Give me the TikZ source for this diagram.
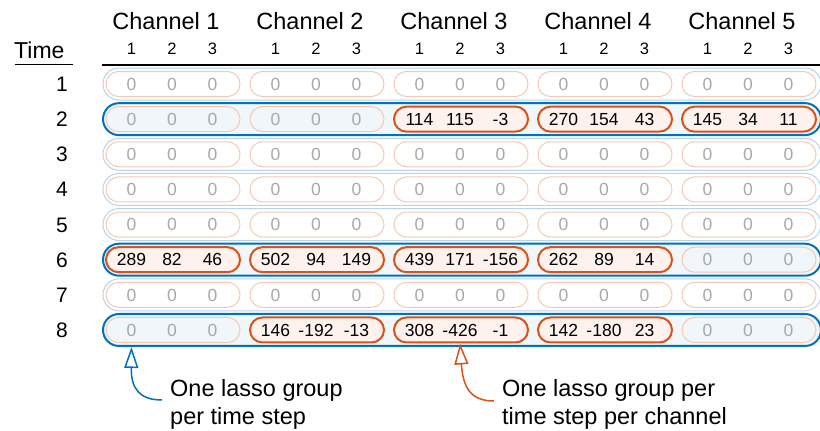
\documentclass[tikz,border=0pt]{standalone}
\usepackage{fontspec}
\setmainfont{Liberation Sans}
\usetikzlibrary{arrows.meta}

\definecolor{mblue}{HTML}{0072BD}
\definecolor{lblue}{HTML}{B5D3EC}
\definecolor{rowfill}{HTML}{F1F6FB}
\definecolor{morange}{HTML}{D95319}
\definecolor{lorange}{HTML}{F5C8B5}
\definecolor{chfill}{HTML}{FDF2EE}
\definecolor{zgray}{HTML}{A8A8A8}

% non-zero entries: row, channel, three values
\newcommand\cellvals[5]{\expandafter\def\csname cv-#1-#2\endcsname{#3,#4,#5}}
\cellvals{2}{3}{114}{115}{-3}
\cellvals{2}{4}{270}{154}{43}
\cellvals{2}{5}{145}{34}{11}
\cellvals{6}{1}{289}{82}{46}
\cellvals{6}{2}{502}{94}{149}
\cellvals{6}{3}{439}{171}{-156}
\cellvals{6}{4}{262}{89}{14}
\cellvals{8}{2}{146}{-192}{-13}
\cellvals{8}{3}{308}{-426}{-1}
\cellvals{8}{4}{142}{-180}{23}

\begin{document}
\begin{tikzpicture}[x=1pt,y=-1pt,
  rowbox/.style={draw=lblue, line width=1pt, rounded corners=16pt,
    minimum width=718pt, minimum height=32pt, inner sep=0pt},
  rowon/.style={rowbox, draw=mblue, line width=2pt, fill=rowfill},
  chbox/.style={draw=lorange, line width=1pt, rounded corners=12.5pt,
    minimum width=134pt, minimum height=25pt, inner sep=0pt},
  chon/.style={chbox, draw=morange, line width=2pt, fill=chfill},
  cell/.style={font=\fontsize{17.5}{20}\selectfont, text=zgray, inner sep=0pt,
    text height=12.5pt, text depth=0pt},
  cellon/.style={cell, text=black},
  rowlab/.style={font=\fontsize{21}{24}\selectfont, inner sep=0pt, anchor=east,
    text height=15pt, text depth=0pt},
  chlab/.style={font=\fontsize{23.5}{26}\selectfont, inner sep=0pt,
    text height=17pt, text depth=0pt},
  collab/.style={font=\fontsize{16.5}{19}\selectfont, inner sep=0pt,
    text height=12pt, text depth=0pt},
  note/.style={font=\fontsize{23.5}{28}\selectfont, inner sep=0pt, anchor=base west},
  pointer/.style={line width=1.5pt, -{Triangle[open, length=21pt, width=14pt]}}
]
\useasboundingbox (0,0) rectangle (820,431);

% header
\node[font=\fontsize{23}{26}\selectfont, inner sep=0pt, anchor=west,
  text height=16pt, text depth=0pt] (time) at (14,50) {Time};
\draw[line width=1.2pt] (15,64.5) -- (72.5,64.5);
\draw[line width=1.2pt] (102,65) -- (820,65);
\foreach \k in {1,...,5}{
  \node[chlab] (ch-\k) at ({166+144*(\k-1)},21.5) {Channel \k};
  \foreach \j in {1,2,3}
    \node[collab] (col-\k-\j) at ({131.5+144*(\k-1)+40.5*(\j-1)},48.5) {\j};
}

% one lasso group per time step
\foreach \r in {1,...,8}{
  \pgfmathsetmacro\yy{84+35.14*(\r-1)}
  \ifnum\r=2 \def\rst{rowon}\else\ifnum\r=6 \def\rst{rowon}\else
    \ifnum\r=8 \def\rst{rowon}\else\def\rst{rowbox}\fi\fi\fi
  \node[\rst] (r-\r) at (462,\yy) {};
  \node[rowlab] (t-\r) at (68,\yy) {\r};
}

% one lasso group per time step per channel
\foreach \r in {1,...,8}{
  \foreach \k in {1,...,5}{
    \pgfmathsetmacro\yy{84+35.14*(\r-1)}
    \ifcsname cv-\r-\k\endcsname
      \edef\vals{\csname cv-\r-\k\endcsname}\def\bst{chon}\def\cst{cellon}%
    \else
      \def\vals{0,0,0}\def\bst{chbox}\def\cst{cell}%
    \fi
    \node[\bst] (b-\r-\k) at ({173+144*(\k-1)},\yy) {};
    \foreach \v [count=\j] in \vals
      \node[\cst] (c-\r-\k-\j) at ({131.5+144*(\k-1)+40.5*(\j-1)},\yy) {\v};
  }
}

% annotations
\node[note] (n1a) at (170,396) {One lasso group};
\node[note] (n1b) at (170,424) {per time step};
\node[note] (n2a) at (502,396) {One lasso group per};
\node[note] (n2b) at (502,424) {time step per channel};

\coordinate (p1) at (162,400);
\coordinate (p2) at (494,401);
\draw[pointer, draw=mblue] (p1) .. controls (139,400) and (131,388) .. (r-8.south -| c-8-1-1);
\draw[pointer, draw=morange] (p2) .. controls (471,401) and (463,388) .. (b-8-3.south -| c-8-3-2);
\end{tikzpicture}
\end{document}
